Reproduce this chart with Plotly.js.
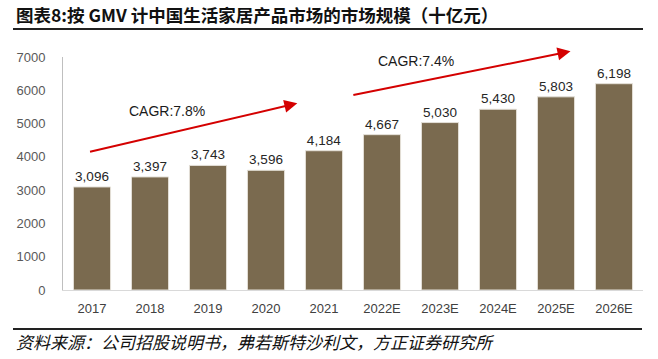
<!DOCTYPE html>
<html>
<head>
<meta charset="utf-8">
<script src="https://cdn.plot.ly/plotly-3.0.1.min.js"></script>
<style>
html,body{margin:0;padding:0;background:#fff;}
#chart{width:658px;height:359px;}
</style>
</head>
<body>
<div id="chart"></div>
<script>
const categories = ['2017','2018','2019','2020','2021','2022E','2023E','2024E','2025E','2026E'];
const values = [3096, 3397, 3743, 3596, 4184, 4667, 5030, 5430, 5803, 6198];
const yTicks = [0, 1000, 2000, 3000, 4000, 5000, 6000, 7000];
const cagrLabels = ['CAGR:7.8%', 'CAGR:7.4%'];
const titleText = '图表8:按 GMV 计中国生活家居产品市场的市场规模（十亿元）';
const sourceText = '资料来源：公司招股说明书，弗若斯特沙利文，方正证券研究所';

const trace = {
  type: 'bar',
  x: categories,
  y: values,
  marker: {color: '#7A6A4F', line: {color: '#E4E0D8', width: 1}},
  width: 0.64,
  text: values.map(v => v.toLocaleString('en-US')),
  textposition: 'outside',
  textfont: {family: 'Liberation Sans, Arial, sans-serif', size: 13.5, color: '#262626'},
  cliponaxis: false,
  hoverinfo: 'skip'
};

const PH = 233, PW = 580, ML = 63, MT = 57;
const red = '#D40000';
const annotations = [
  {x: 3.54, y: 5610, ax: -0.06, ay: 4140, xref: 'x', yref: 'y', axref: 'x', ayref: 'y',
   showarrow: true, arrowhead: 2, arrowsize: 1.3, arrowwidth: 2, arrowcolor: red, text: ''},
  {x: 8.25, y: 7170, ax: 4.48, ay: 5850, xref: 'x', yref: 'y', axref: 'x', ayref: 'y',
   showarrow: true, arrowhead: 2, arrowsize: 1.3, arrowwidth: 2, arrowcolor: red, text: ''},
  {x: 1.29, y: 5370, xref: 'x', yref: 'y', showarrow: false, text: cagrLabels[0],
   font: {family: 'Liberation Sans, Arial, sans-serif', size: 14, color: '#1a1a1a'}},
  {x: 5.58, y: 6870, xref: 'x', yref: 'y', showarrow: false, text: cagrLabels[1],
   font: {family: 'Liberation Sans, Arial, sans-serif', size: 14, color: '#1a1a1a'}},
  {x: (14 - ML) / PW, y: 1 + (MT - 15) / PH, xref: 'paper', yref: 'paper', xanchor: 'left', yanchor: 'middle',
   showarrow: false, text: '<b>' + titleText + '</b>',
   font: {family: 'Noto Sans CJK SC, sans-serif', size: 17.5, color: '#111'}},
  {x: (14 - ML) / PW, y: -(341 - (MT + PH)) / PH, xref: 'paper', yref: 'paper', xanchor: 'left', yanchor: 'middle',
   showarrow: false, text: '<i>' + sourceText + '</i>',
   font: {family: 'Noto Sans CJK SC, sans-serif', size: 17, color: '#111'}}
];

const layout = {
  width: 658, height: 359,
  margin: {l: ML, r: 15, t: MT, b: 69},
  paper_bgcolor: '#fff', plot_bgcolor: '#fff',
  showlegend: false,
  bargap: 0.36,
  xaxis: {
    type: 'category',
    showline: true, linecolor: '#D9D9D9', linewidth: 1,
    showgrid: false, zeroline: false, ticks: '',
    ticklabelstandoff: 6,
    tickfont: {family: 'Liberation Sans, Arial, sans-serif', size: 13, color: '#404040'}
  },
  yaxis: {
    range: [0, 7000],
    tickvals: yTicks,
    ticktext: yTicks.map(String),
    showline: true, linecolor: '#BFBFBF', linewidth: 1,
    showgrid: false, zeroline: false, ticks: '',
    ticklabelstandoff: 14,
    tickfont: {family: 'Liberation Sans, Arial, sans-serif', size: 13, color: '#595959'}
  },
  shapes: [
    {type: 'line', xref: 'paper', yref: 'paper', x0: -50/PW, x1: 580/PW, y0: 1 + 28/PH, y1: 1 + 28/PH,
     line: {color: '#222', width: 2}},
    {type: 'line', xref: 'paper', yref: 'paper', x0: -50/PW, x1: 579/PW, y0: -39/PH, y1: -39/PH,
     line: {color: '#222', width: 2}}
  ],
  annotations: annotations
};

Plotly.newPlot('chart', [trace], layout, {displayModeBar: false, staticPlot: true});
</script>
</body>
</html>
